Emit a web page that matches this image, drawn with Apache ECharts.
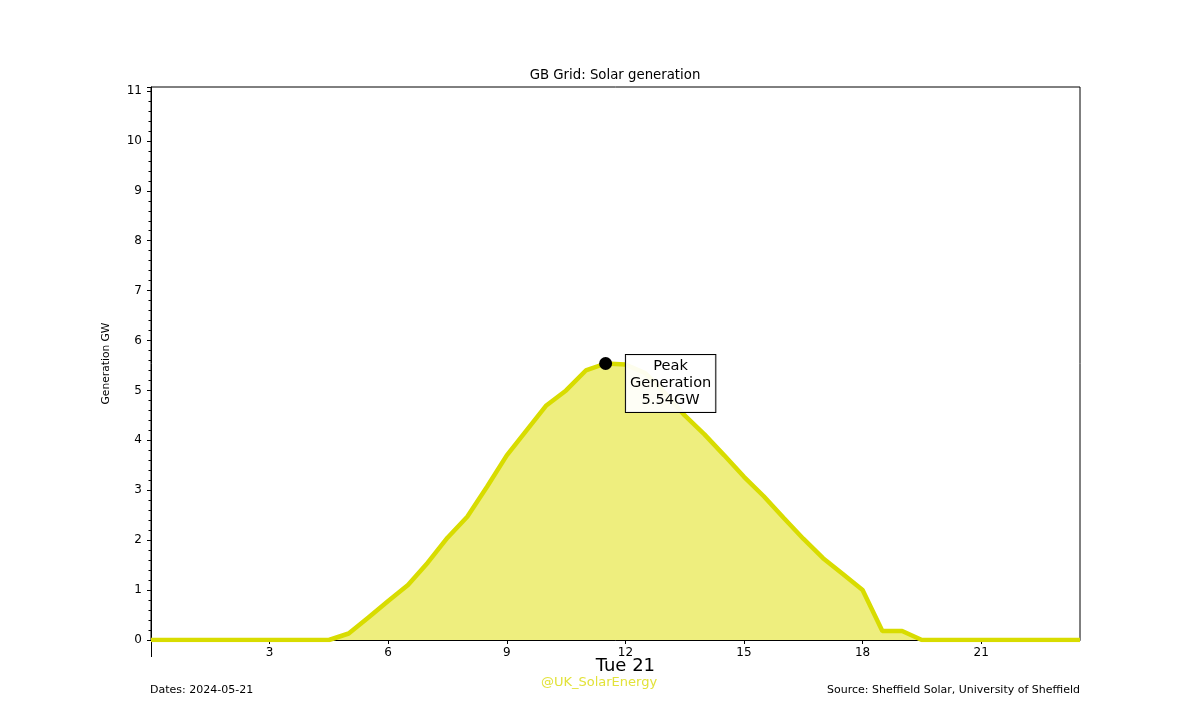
<!DOCTYPE html>
<html>
<head>
<meta charset="utf-8">
<script src="https://cdn.jsdelivr.net/npm/echarts@6/dist/echarts.min.js"></script>
<style>html,body{margin:0;padding:0;background:#fff}#c{width:1200px;height:720px}</style>
</head>
<body>
<div id="c"></div>
<script>
var hours = [0,0.5,1,1.5,2,2.5,3,3.5,4,4.5,5,5.5,6,6.5,7,7.5,8,8.5,9,9.5,10,10.5,11,11.5,12,12.5,13,13.5,14,14.5,15,15.5,16,16.5,17,17.5,18,18.5,19,19.5,20,20.5,21,21.5,22,22.5,23,23.5];
var generation = [0,0,0,0,0,0,0,0,0,0,0.13,0.45,0.78,1.1,1.55,2.05,2.47,3.07,3.7,4.2,4.7,5.0,5.4,5.54,5.52,5.35,4.95,4.5,4.12,3.7,3.27,2.88,2.45,2.03,1.64,1.32,1.0,0.18,0.18,0,0,0,0,0,0,0,0,0];
var hourTicks = [3,6,9,12,15,18,21];
var peakHour = [11.5];
var peakValue = [5.54];
var dayLabel = 'Tue 21';
var yMax = 11.08;

var lineData = hours.map(function(h,i){return [h, generation[i]];});
var font = 'DejaVu Sans';
var chart = echarts.init(document.getElementById('c'));
chart.setOption({
  animation:false,
  backgroundColor:'#fff',
  textStyle:{fontFamily:font},
  title:[
    {text:'GB Grid: Solar generation',left:615,top:69,padding:0,textAlign:'center',textStyle:{fontFamily:font,fontSize:13.3,fontWeight:'normal',color:'#000'}},
    {text:'Dates: 2024-05-21',left:150,top:685,padding:0,textStyle:{fontFamily:font,fontSize:11,fontWeight:'normal',color:'#000'}},
    {text:'Source: Sheffield Solar, University of Sheffield',right:120,top:685,padding:0,textStyle:{fontFamily:font,fontSize:11,fontWeight:'normal',color:'#000'}},
    {text:'@UK_SolarEnergy',left:599,top:676,padding:0,textAlign:'center',textStyle:{fontFamily:font,fontSize:13,fontWeight:'normal',color:'#e2e23a'}}
  ],
  grid:{left:151,right:120,top:87,bottom:80,show:true,borderColor:'#000',borderWidth:1,backgroundColor:'transparent'},
  xAxis:[
    {type:'value',min:0,max:23.5,interval:3,
     axisLine:{lineStyle:{color:'#000',width:1}},
     axisTick:{show:true,length:4,lineStyle:{color:'#000'},customValues:hourTicks},
     axisLabel:{color:'#000',fontSize:12,fontFamily:font,margin:7,customValues:hourTicks},
     splitLine:{show:false}},
    {type:'value',min:0,max:23.5,position:'bottom',
     axisLine:{show:false},
     axisTick:{show:true,length:17,lineStyle:{color:'#000'},customValues:[0]},
     axisLabel:{show:true,color:'#000',fontSize:18,fontFamily:font,margin:17,customValues:[12],formatter:function(){return dayLabel;}},
     splitLine:{show:false}}
  ],
  yAxis:{type:'value',min:0,max:yMax,interval:1,
    name:'Generation GW',nameLocation:'middle',nameGap:39,nameRotate:90,
    nameTextStyle:{color:'#000',fontSize:10.7,fontFamily:font},
    axisLine:{show:true,lineStyle:{color:'#000',width:1}},
    axisTick:{show:true,length:4,lineStyle:{color:'#000'}},
    minorTick:{show:true,splitNumber:5,length:2.5,lineStyle:{color:'#000'}},
    axisLabel:{color:'#000',fontSize:12,fontFamily:font,margin:9,showMaxLabel:false,
      formatter:function(v){return Math.abs(v-Math.round(v))<1e-6?String(Math.round(v)):'';}},
    splitLine:{show:false}},
  series:[
    {type:'line',data:lineData,showSymbol:false,symbol:'none',
     lineStyle:{color:'#d8dc00',width:4.5},
     areaStyle:{color:'#eeee7e',opacity:1},z:2},
    {type:'scatter',data:peakHour.map(function(h,i){return [h,peakValue[i]];}),
     symbol:'circle',symbolSize:13,itemStyle:{color:'#000',opacity:1},z:5,
     label:{show:true,position:[71.5,26.5],
       formatter:function(p){return 'Peak\nGeneration\n'+p.value[1].toFixed(2)+'GW';},
       align:'center',verticalAlign:'middle',
       fontFamily:font,fontSize:14.6,lineHeight:17,color:'#000',
       backgroundColor:'rgba(255,255,255,0.93)',borderColor:'#000',borderWidth:1,padding:[3,4,3,4]
     }}
  ]
});
</script>
</body>
</html>
